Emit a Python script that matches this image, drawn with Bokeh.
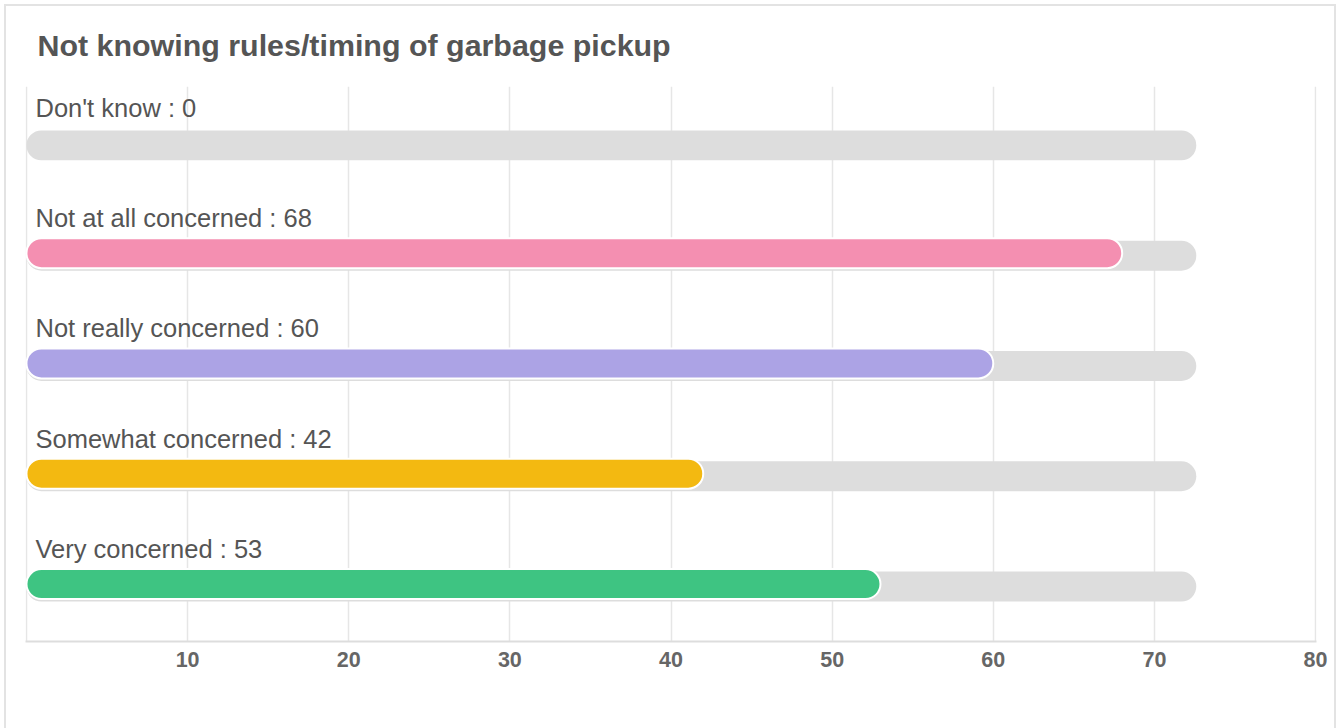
from bokeh.plotting import figure
from bokeh.models import Range1d, FixedTicker, ColumnDataSource
from bokeh.core.properties import value
from bokeh.embed import file_html
from bokeh.resources import INLINE

# ---- data ----
categories = ["Don't know", "Not at all concerned", "Not really concerned",
              "Somewhat concerned", "Very concerned"]
values = [0, 68, 60, 42, 53]
bar_colors = ["#dddddd", "#f48fb1", "#aca3e5", "#f3b911", "#3ec482"]
track_value = 72.6
tick_values = [10, 20, 30, 40, 50, 60, 70, 80]
grid_values = [0, 10, 20, 30, 40, 50, 60, 70, 80]
title_text = "Not knowing rules/timing of garbage pickup"

n = len(categories)
ypos = [n - 1 - i for i in range(n)]
labels = [f"{c} : {v}" for c, v in zip(categories, values)]

track_src = ColumnDataSource(dict(y=ypos, right=[track_value] * n))
bar_src = ColumnDataSource(dict(
    y=[y + 0.023 for y, v in zip(ypos, values) if v > 0],
    right=[v for v in values if v > 0],
    color=[c for c, v in zip(bar_colors, values) if v > 0],
))
label_src = ColumnDataSource(dict(y=[y + 0.34 for y in ypos], text=labels))

p = figure(width=1337, height=728, output_backend="svg", toolbar_location=None,
           x_range=Range1d(-0.06, 80.06), y_range=Range1d(-0.498, 4.534),
           y_axis_location=None,
           min_border_left=25, min_border_right=21, min_border_top=85,
           min_border_bottom=87)
p.stylesheets = [
    ":host { position: relative; }"
    ":host::after { content: ''; position: absolute; left: 4px; top: 4px; "
    "width: 1332px; height: 724px; box-sizing: border-box; "
    "border: 2px solid #e3e3e3; border-bottom: none; "
    "pointer-events: none; z-index: 10; }"
]

p.outline_line_color = None
p.background_fill_color = "white"
p.border_fill_color = "white"

p.title.text = title_text
p.title.text_font = "Liberation Sans"
p.title.text_font_size = "30.4px"
p.title.text_font_style = "bold"
p.title.text_color = "#555555"
p.title.align = "left"
p.title.offset = 12
p.title.standoff = 50

p.xgrid.ticker = FixedTicker(ticks=grid_values)
p.xgrid.grid_line_color = "#e6e6e6"
p.xgrid.grid_line_width = 1.5
p.ygrid.grid_line_color = None

ax = p.xaxis[0]
ax.ticker = FixedTicker(ticks=tick_values)
ax.axis_line_color = "#dddddd"
ax.axis_line_width = 2
ax.major_tick_line_color = None
ax.minor_tick_line_color = None
ax.major_tick_out = 0
ax.major_tick_in = 0
ax.major_label_standoff = 10
ax.major_label_text_font = "Liberation Sans"
ax.major_label_text_font_size = "21.5px"
ax.major_label_text_font_style = "bold"
ax.major_label_text_color = "#666666"

p.hbar(y="y", left=0, right="right", height=0.2715, source=track_src,
       fill_color="#dddddd", line_color=None, border_radius=15)
p.hbar(y="y", left=0, right="right", height=0.2715, source=bar_src,
       fill_color="color", line_color="white", line_width=2, border_radius=15)

p.text(x=0, y="y", text="text", source=label_src, x_offset=9,
       text_font=value("Liberation Sans"), text_font_size="25.5px",
       text_color="#555555", text_baseline="alphabetic", text_align="left")

open("out.html", "w").write(file_html(p, INLINE))
